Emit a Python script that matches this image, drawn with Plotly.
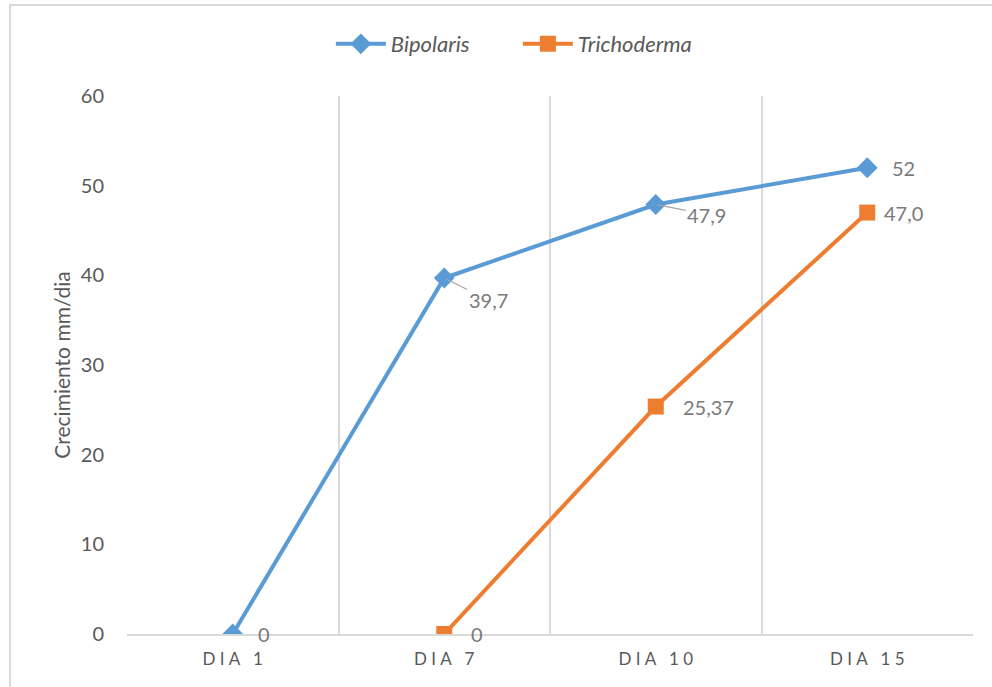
import plotly.graph_objects as go

# Growth (mm/day) of each fungus on the measurement days
days = ["DIA 1", "DIA 7", "DIA 10", "DIA 15"]
bipolaris = [0, 39.7, 47.9, 52]
trichoderma = [None, 0, 25.37, 47.0]
bipolaris_labels = ["0", "39,7", "47,9", "52"]
trichoderma_labels = [None, "0", "25,37", "47,0"]

BLUE = "#5b9bd5"
ORANGE = "#ed7d31"
TICK_GRAY = "#595959"
LABEL_GRAY = "#7a7a7a"
GRID = "#d9d9d9"
FONT = "Lato, Open Sans, sans-serif"


def spaced(label):
    # widen letter spacing of the category labels
    return "\u2005".join(label)


fig = go.Figure()
fig.add_trace(go.Scatter(
    x=days, y=bipolaris, name="<i>Bipolaris</i>", mode="lines+markers",
    line=dict(color=BLUE, width=4),
    marker=dict(symbol="diamond", size=16, color=BLUE),
))
fig.add_trace(go.Scatter(
    x=days, y=trichoderma, name="<i>Trichoderma</i>", mode="lines+markers",
    line=dict(color=ORANGE, width=4),
    marker=dict(symbol="square", size=16, color=ORANGE),
))

# pixel offsets of each data label from its point (dx, dy, leader line)
label_offsets = {
    ("b", 0): (23, 0, False),
    ("b", 1): (24, 22, True),
    ("b", 2): (31, 10, True),
    ("b", 3): (23, 0, False),
    ("t", 1): (25, 0, False),
    ("t", 2): (25, 0, False),
    ("t", 3): (15, 0, False),
}

for key, values, labels in (("b", bipolaris, bipolaris_labels),
                            ("t", trichoderma, trichoderma_labels)):
    for i, (v, lab) in enumerate(zip(values, labels)):
        if v is None:
            continue
        dx, dy, leader = label_offsets[(key, i)]
        if leader:
            fig.add_annotation(
                x=days[i], y=v, text=lab, showarrow=True, arrowhead=0,
                arrowwidth=1.2, arrowcolor="#a6a6a6", ax=dx + 20, ay=dy,
                xanchor="center", yanchor="middle", standoff=2,
                font=dict(family=FONT, size=20, color=LABEL_GRAY),
            )
        else:
            fig.add_annotation(
                x=days[i], y=v, text=lab, showarrow=False,
                xanchor="left", yanchor="middle", xshift=dx, yshift=-dy,
                font=dict(family=FONT, size=20, color=LABEL_GRAY),
            )

# outer chart border
fig.add_shape(type="rect", xref="paper", yref="paper",
              x0=-0.1383, x1=1.04, y0=-0.13, y1=1.1691,
              line=dict(color="#d9d9d9", width=2), fillcolor="rgba(0,0,0,0)",
              layer="below")

fig.update_layout(
    width=992, height=687,
    margin=dict(l=127, r=19, t=96, b=53),
    paper_bgcolor="white", plot_bgcolor="white",
    font=dict(family=FONT, color=TICK_GRAY),
    showlegend=True,
    legend=dict(orientation="h", x=0.462, y=1.0967, xanchor="center",
                yanchor="middle", font=dict(size=22, color=TICK_GRAY),
                itemwidth=50, entrywidth=122, entrywidthmode="pixels"),
)
fig.update_xaxes(
    type="category", categoryorder="array", categoryarray=days,
    tickmode="array", tickvals=days, ticktext=[spaced(d) for d in days],
    range=[-0.5, 3.5], tickson="boundaries", ticks="",
    showgrid=True, gridcolor=GRID, gridwidth=1.5,
    showline=True, linecolor=GRID, linewidth=1.5,
    tickfont=dict(size=17, color=TICK_GRAY), ticklabelstandoff=9,
)
fig.update_yaxes(
    range=[0, 60], dtick=10, showgrid=False, zeroline=False,
    showline=False, ticks="", ticklabelstandoff=22,
    tickfont=dict(size=20, color=TICK_GRAY),
    title=dict(text="Crecimiento mm/dia", font=dict(size=21, color=TICK_GRAY),
               standoff=4),
)

fig.write_html("out.html")
